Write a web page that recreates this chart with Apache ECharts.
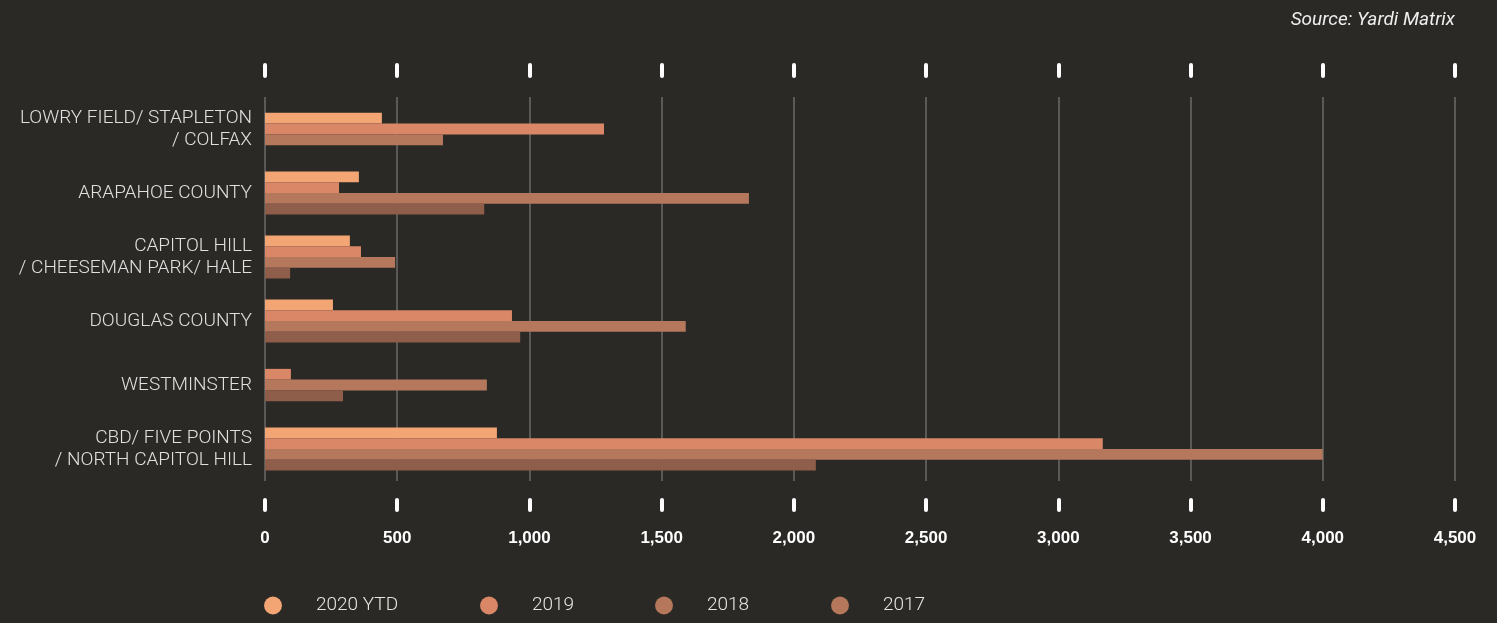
<!DOCTYPE html>
<html>
<head>
<meta charset="utf-8">
<script src="https://cdn.jsdelivr.net/npm/echarts@6/dist/echarts.min.js"></script>
<style>
  html, body { margin: 0; padding: 0; background: #2a2925; }
  #chart { width: 1497px; height: 623px; }
</style>
</head>
<body>
<div id="chart"></div>
<script>
// Submarkets, top to bottom
const categories = [
  'LOWRY FIELD/ STAPLETON\n/ COLFAX',
  'ARAPAHOE COUNTY',
  'CAPITOL HILL\n/ CHEESEMAN PARK/ HALE',
  'DOUGLAS COUNTY',
  'WESTMINSTER',
  'CBD/ FIVE POINTS\n/ NORTH CAPITOL HILL'
];

// Completed units per year (0 = no completions, bar omitted)
const seriesNames = ['2020 YTD', '2019', '2018', '2017'];
const units2020 = [442, 355, 321, 257, 0, 877];
const units2019 = [1282, 280, 363, 934, 98, 3168];
const units2018 = [673, 1830, 492, 1591, 839, 4000];
const units2017 = [0, 829, 95, 965, 295, 2083];

const xTicks = [0, 500, 1000, 1500, 2000, 2500, 3000, 3500, 4000, 4500];
const xTickLabels = ['0', '500', '1,000', '1,500', '2,000', '2,500', '3,000', '3,500', '4,000', '4,500'];

const barColors = ['#f4a574', '#da8768', '#b5785c', '#8f5e4a'];
const legendColors = ['#f4a574', '#da8768', '#b5785c', '#b5785c'];
const allUnits = [units2020, units2019, units2018, units2017];

// Bars in a group are stacked edge to edge and centred on the category,
// skipping years with no completions.
function renderBar(params, api) {
  const s = params.seriesIndex;
  const cat = api.value(1);
  const v = api.value(0);
  if (!v) return null;
  const present = allUnits.map(arr => arr[cat] > 0);
  const n = present.filter(Boolean).length;
  let k = 0;
  for (let i = 0; i < s; i++) if (present[i]) k++;
  const p0 = api.coord([0, cat]);
  const p1 = api.coord([v, cat]);
  const h = api.size([0, 1])[1] * 0.168;
  const y = p0[1] - n * h / 2 + k * h;
  return {
    type: 'rect',
    shape: { x: p0[0], y: y, width: p1[0] - p0[0], height: h },
    style: { fill: barColors[s] }
  };
}

const legendLeft = [259, 475, 650, 826];

const chart = echarts.init(document.getElementById('chart'), null, { renderer: 'canvas' });

chart.setOption({
  backgroundColor: '#2a2925',
  animation: false,
  title: {
    text: 'Source: Yardi Matrix',
    right: 37,
    top: 6,
    textStyle: {
      color: '#eeeeee',
      fontStyle: 'italic',
      fontWeight: 'normal',
      fontSize: 19,
      fontFamily: 'Roboto'
    }
  },
  legend: seriesNames.map((name, i) => ({
    left: legendLeft[i],
    top: 591,
    icon: 'circle',
    itemWidth: 18,
    itemHeight: 18,
    data: [{ name: name, itemStyle: { color: legendColors[i] } }],
    textStyle: {
      color: '#e6e6e6',
      fontSize: 19,
      fontFamily: 'Roboto',
      fontWeight: 300,
      padding: [0, 0, 0, 29]
    }
  })),
  grid: { left: 265, right: 42, top: 97, bottom: 142, containLabel: false },
  xAxis: [
    {
      type: 'value',
      position: 'bottom',
      min: 0,
      max: 4500,
      interval: 500,
      offset: 19,
      axisLine: { show: false },
      axisTick: { show: true, length: 10, lineStyle: { color: '#ffffff', width: 4, cap: 'round' } },
      axisLabel: {
        color: '#ffffff',
        fontSize: 17,
        fontWeight: 'bold',
        fontFamily: 'Liberation Sans',
        margin: 30,
        formatter: v => xTickLabels[xTicks.indexOf(v)]
      },
      splitLine: { show: true, lineStyle: { color: '#6a6a6a', width: 1.5 } }
    },
    {
      type: 'value',
      position: 'top',
      min: 0,
      max: 4500,
      interval: 500,
      offset: 21,
      axisLine: { show: false },
      axisTick: { show: true, length: 11, lineStyle: { color: '#ffffff', width: 4, cap: 'round' } },
      axisLabel: { show: false },
      splitLine: { show: false }
    }
  ],
  yAxis: {
    type: 'category',
    inverse: true,
    data: categories,
    axisLine: { show: false },
    axisTick: { show: false },
    splitLine: { show: false },
    axisLabel: {
      color: '#e0e0e0',
      fontSize: 19,
      fontFamily: 'Roboto',
      fontWeight: 300,
      lineHeight: 22,
      margin: 13
    }
  },
  series: seriesNames.map((name, s) => ({
    name: name,
    type: 'custom',
    renderItem: renderBar,
    itemStyle: { color: legendColors[s] },
    encode: { x: 0, y: 1 },
    data: allUnits[s].map((v, i) => [v, i])
  }))
});
</script>
</body>
</html>
